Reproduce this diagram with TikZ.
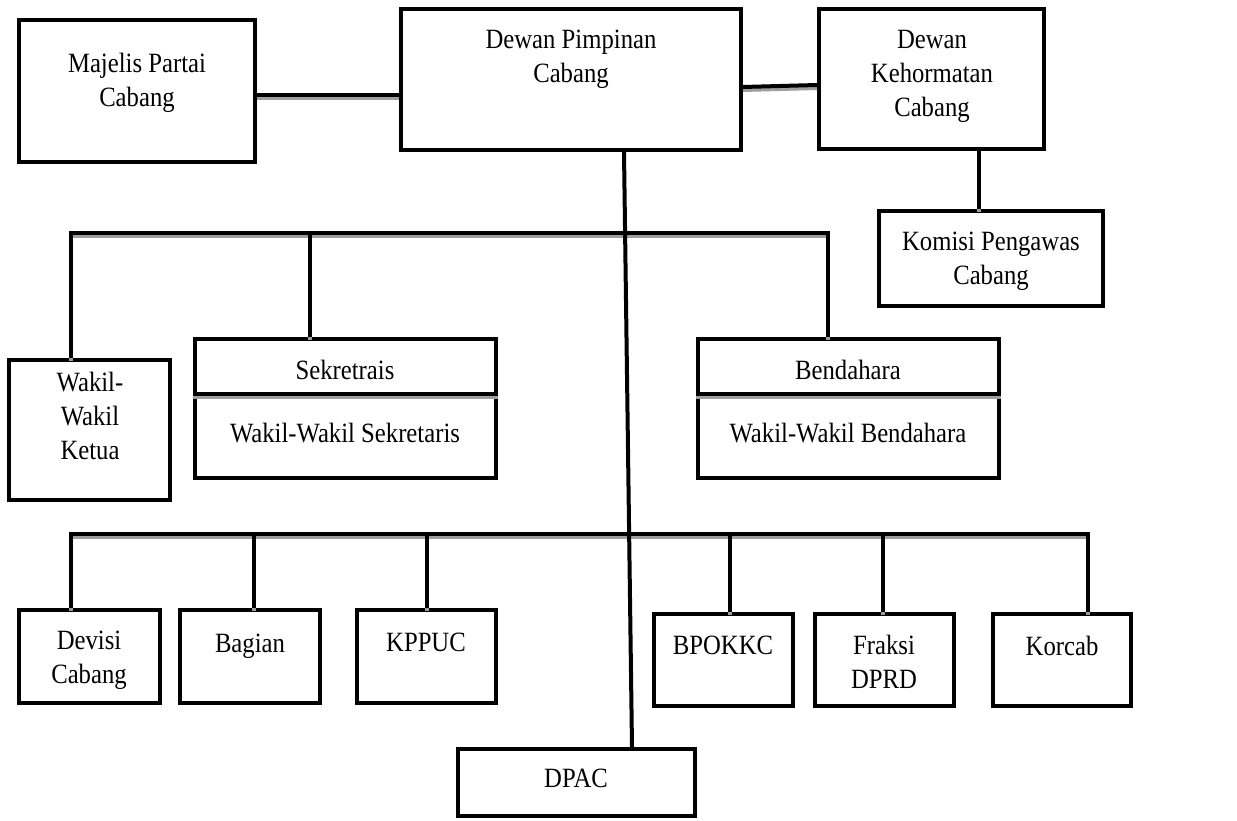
\documentclass[tikz,border=0pt]{standalone}
\usepackage{fontspec}
\setmainfont{Liberation Serif}
\definecolor{shadowgray}{gray}{0.62}
\newcommand{\lbl}[1]{\scalebox{1}[1.13]{\fontsize{24.7}{30}\selectfont\begin{tabular}{@{}c@{}}#1\end{tabular}}}
\begin{document}
\begin{tikzpicture}[x=1pt,y=-1pt,
  box/.style={draw=black, line width=4pt, inner sep=0pt},
  txt/.style={inner sep=0pt, align=center, yshift=-3pt},
  conn/.style={line width=4pt, preaction={draw=shadowgray, line width=4pt, transform canvas={yshift=-3pt}}},
  plainconn/.style={line width=4pt}]
\useasboundingbox[fill=white] (0,0) rectangle (1237,821);
% boxes
\node[box, minimum width=236pt, minimum height=142pt] (maj) at (137,91) {};
\node[txt] (majt) at (137,80) {\lbl{Majelis Partai\\Cabang}};
\node[box, minimum width=340pt, minimum height=141pt] (dpc) at (571,79.5) {};
\node[txt] (dpct) at (571,56) {\lbl{Dewan Pimpinan\\Cabang}};
\node[box, minimum width=225pt, minimum height=140pt] (dk) at (931.5,79) {};
\node[txt] (dkt) at (932,73) {\lbl{Dewan\\Kehormatan\\Cabang}};
\node[box, minimum width=224pt, minimum height=95pt] (kom) at (991,258.5) {};
\node[txt] (komt) at (991,258) {\lbl{Komisi Pengawas\\Cabang}};
\node[box, minimum width=161pt, minimum height=140pt] (wk) at (89.5,430) {};
\node[txt] (wkt) at (90,416) {\lbl{Wakil-\\Wakil\\Ketua}};
\node[box, minimum width=301pt, minimum height=139pt] (sek) at (345.5,408.5) {};
\node[txt] (sekt) at (345,370) {\lbl{Sekretrais}};
\node[txt] (wsekt) at (345,433) {\lbl{Wakil-Wakil Sekretaris}};
\node[box, minimum width=301pt, minimum height=139pt] (ben) at (848.5,408.5) {};
\node[txt] (bent) at (848,370) {\lbl{Bendahara}};
\node[txt] (wbent) at (848,433) {\lbl{Wakil-Wakil Bendahara}};
\node[box, minimum width=141pt, minimum height=93pt] (dev) at (89.5,656.5) {};
\node[txt] (devt) at (89,657) {\lbl{Devisi\\Cabang}};
\node[box, minimum width=140pt, minimum height=93pt] (bag) at (250,656.5) {};
\node[txt] (bagt) at (250,643) {\lbl{Bagian}};
\node[box, minimum width=139pt, minimum height=93pt] (kpp) at (426.5,656.5) {};
\node[txt] (kppt) at (426,642) {\lbl{KPPUC}};
\node[box, minimum width=139pt, minimum height=92pt] (bpo) at (723.5,660) {};
\node[txt] (bpot) at (723,645) {\lbl{BPOKKC}};
\node[box, minimum width=139pt, minimum height=92pt] (fra) at (884.5,660) {};
\node[txt] (frat) at (884,662) {\lbl{Fraksi\\DPRD}};
\node[box, minimum width=138pt, minimum height=92pt] (kor) at (1062,660) {};
\node[txt] (kort) at (1062,646) {\lbl{Korcab}};
\node[box, minimum width=237pt, minimum height=67pt] (dpac) at (576.5,782.5) {};
\node[txt] (dpact) at (576,778) {\lbl{DPAC}};
% bus coordinates
\coordinate (bus1) at (0,233);
\coordinate (bus2) at (0,534);
% connectors
\draw[conn] ([yshift=-4pt]maj.east) -- ([yshift=-4pt]maj.east -| dpc.west);
\draw[conn] ([yshift=-7.5pt]dpc.east) -- ([yshift=-6pt]dk.west);
\draw[conn] ([xshift=47.5pt]dk.south) -- ([xshift=47.5pt]dk.south |- kom.north);
\draw[conn] ([xshift=-18.5pt]wk.north) -- ([xshift=-18.5pt]wk.north |- bus1) -- ([xshift=-20.5pt]ben.north |- bus1) -- ([xshift=-20.5pt]ben.north);
\draw[conn] ([xshift=-35.5pt]sek.north) -- ([xshift=-35.5pt]sek.north |- bus1);
\draw[conn] ([yshift=14.5pt]sek.west) -- ([yshift=14.5pt]sek.east);
\draw[conn] ([yshift=14.5pt]ben.west) -- ([yshift=14.5pt]ben.east);
\draw[conn] ([xshift=-18.5pt]dev.north) -- ([xshift=-18.5pt]dev.north |- bus2) -- ([xshift=26pt]kor.north |- bus2) -- ([xshift=26pt]kor.north);
\draw[conn] ([xshift=4pt]bag.north) -- ([xshift=4pt]bag.north |- bus2);
\draw[conn] (kpp.north) -- (kpp.north |- bus2);
\draw[conn] ([xshift=6.5pt]bpo.north) -- ([xshift=6.5pt]bpo.north |- bus2);
\draw[conn] ([xshift=-1.5pt]fra.north) -- ([xshift=-1.5pt]fra.north |- bus2);
\draw[plainconn] ([xshift=53pt]dpc.south) -- ([xshift=55.5pt]dpac.north);
\end{tikzpicture}
\end{document}
